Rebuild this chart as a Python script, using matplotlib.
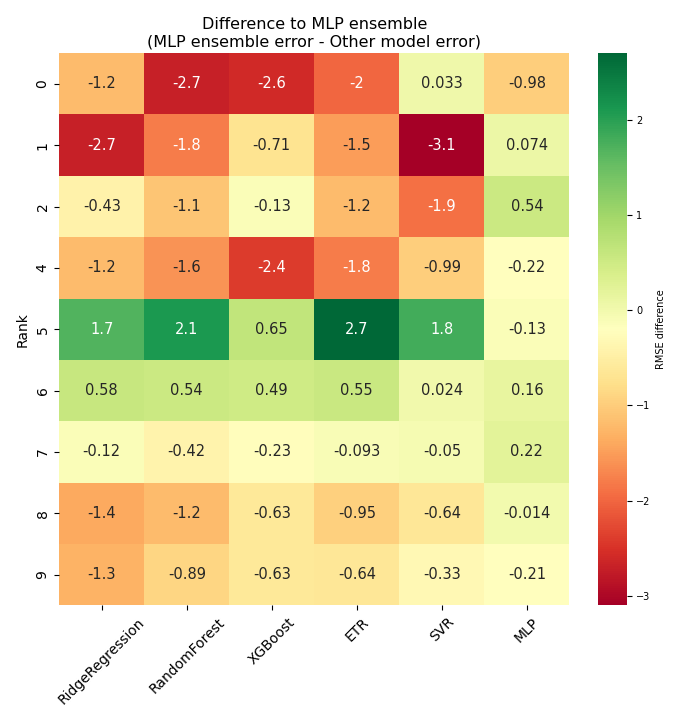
import matplotlib
matplotlib.use("Agg")
import matplotlib.pyplot as plt
import numpy as np
import pandas as pd
import seaborn as sns

ranks = ["0", "1", "2", "4", "5", "6", "7", "8", "9"]
models = ["RidgeRegression", "RandomForest", "XGBoost", "ETR", "SVR", "MLP"]

# MLP ensemble error minus each model's error, one row per rank
diff = [
    [-1.2, -2.7, -2.6, -2.0, 0.033, -0.98],
    [-2.7, -1.8, -0.71, -1.5, -3.1, 0.074],
    [-0.43, -1.1, -0.13, -1.2, -1.9, 0.54],
    [-1.2, -1.6, -2.4, -1.8, -0.99, -0.22],
    [1.7, 2.1, 0.65, 2.7, 1.8, -0.13],
    [0.58, 0.54, 0.49, 0.55, 0.024, 0.16],
    [-0.12, -0.42, -0.23, -0.093, -0.05, 0.22],
    [-1.4, -1.2, -0.63, -0.95, -0.64, -0.014],
    [-1.3, -0.89, -0.63, -0.64, -0.33, -0.21],
]

df = pd.DataFrame(np.array(diff), index=ranks, columns=models)

fig = plt.figure(figsize=(6.73, 7.18), dpi=100)
ax = fig.add_axes([0.088, 0.157, 0.758, 0.769])
cax = fig.add_axes([0.888, 0.157, 0.043, 0.769])

sns.heatmap(df, cmap="RdYlGn", annot=True, ax=ax, cbar_ax=cax,
            annot_kws={"fontsize": 10.5},
            cbar_kws={"label": "RMSE difference"})

ax.set_title("Difference to MLP ensemble\n(MLP ensemble error - Other model error)",
             fontsize=11.5, pad=5)
ax.set_ylabel("Rank", fontsize=10)
ax.set_xticklabels(models, rotation=45, fontsize=10)
ax.set_yticklabels(ranks, rotation=90, fontsize=10)
cax.tick_params(labelsize=7)
cax.yaxis.label.set_size(7)

fig.savefig("out.png", dpi=100)
